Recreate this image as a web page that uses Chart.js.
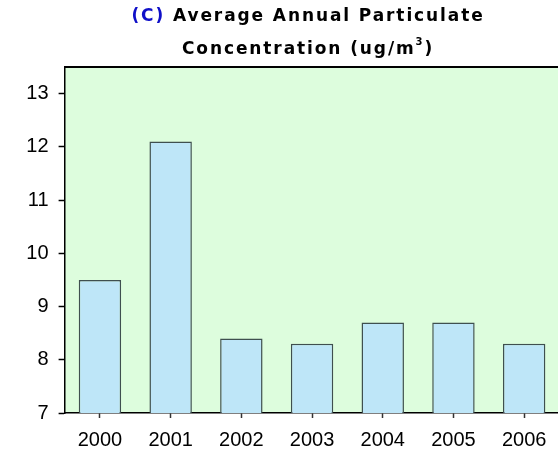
<!DOCTYPE html>
<html>
<head>
<meta charset="utf-8">
<script src="https://cdn.jsdelivr.net/npm/chart.js@4"></script>
<style>
    html, body { margin: 0; padding: 0; background: #fff; overflow: hidden; }
    #wrap { width: 562px; height: 452px; }
</style>
</head>
<body>
<div id="wrap"><canvas id="chart"></canvas></div>
<script>
const years = ['2000', '2001', '2002', '2003', '2004', '2005', '2006'];
const concentration = [9.5, 12.1, 8.4, 8.3, 8.7, 8.7, 8.3];
const titleTag = '(C)';
const titleLine1 = ' Average Annual Particulate';
const titleLine2 = ['Concentration (ug/m', '3', ')'];

// plot background + top border + two-colour title
const chartDecor = {
    id: 'chartDecor',
    beforeDraw(chart) {
        const { ctx, chartArea: a } = chart;
        ctx.save();
        ctx.fillStyle = '#ddfddd';
        ctx.fillRect(a.left, a.top, a.right - a.left, a.bottom - a.top);
        ctx.restore();
    },
    afterDraw(chart) {
        const { ctx, chartArea: a } = chart;
        ctx.save();
        ctx.strokeStyle = '#000';
        ctx.lineWidth = 2;
        ctx.beginPath();
        ctx.moveTo(a.left, a.top);
        ctx.lineTo(a.right, a.top);
        ctx.stroke();

        const big = 'bold 17px "DejaVu Sans"';
        const small = 'bold 10px "DejaVu Sans"';
        const cx = (a.left + a.right) / 2 - 4;
        ctx.letterSpacing = '1.9px';
        ctx.textBaseline = 'alphabetic';
        ctx.font = big;

        const w1 = ctx.measureText(titleTag).width;
        const w2 = ctx.measureText(titleLine1).width;
        let x = cx - (w1 + w2) / 2;
        ctx.fillStyle = '#1010c8';
        ctx.fillText(titleTag, x, 21);
        ctx.fillStyle = '#000';
        ctx.fillText(titleLine1, x + w1, 21);

        const wa = ctx.measureText(titleLine2[0]).width;
        ctx.font = small;
        const wb = ctx.measureText(titleLine2[1]).width;
        ctx.font = big;
        const wc = ctx.measureText(titleLine2[2]).width;
        x = cx - (wa + wb + wc) / 2;
        ctx.fillText(titleLine2[0], x, 54);
        ctx.font = small;
        ctx.fillText(titleLine2[1], x + wa, 45);
        ctx.font = big;
        ctx.fillText(titleLine2[2], x + wa + wb, 54);
        ctx.restore();
    }
};

new Chart(document.getElementById('chart'), {
    type: 'bar',
    data: {
        labels: years,
        datasets: [{
            data: concentration,
            backgroundColor: '#bee6f8',
            borderColor: '#3f4f4f',
            borderWidth: 1.5,
            borderSkipped: false,
            barPercentage: 0.6,
            categoryPercentage: 1
        }]
    },
    options: {
        responsive: true,
        maintainAspectRatio: false,
        animation: false,
        layout: { padding: { top: 67, right: 2.5, left: 0, bottom: 0 } },
        plugins: {
            legend: { display: false },
            tooltip: { enabled: false }
        },
        scales: {
            x: {
                offset: true,
                grid: {
                    offset: false,
                    drawOnChartArea: false,
                    tickLength: 5,
                    tickColor: '#333',
                    tickWidth: 1.5
                },
                border: { display: true, color: '#000', width: 1.5 },
                ticks: {
                    color: '#000',
                    padding: 10,
                    font: { family: '"Liberation Sans", Arial', size: 20 }
                },
                afterFit(scale) { scale.height = 39; }
            },
            y: {
                min: 7,
                max: 13.5,
                grid: {
                    drawOnChartArea: false,
                    tickLength: 6,
                    tickColor: '#000',
                    tickWidth: 1.5
                },
                border: { display: true, color: '#000', width: 1.5 },
                ticks: {
                    stepSize: 1,
                    includeBounds: false,
                    color: '#000',
                    padding: 10,
                    font: { family: '"Liberation Sans", Arial', size: 20 }
                },
                afterFit(scale) { scale.width = 64.6; }
            }
        }
    },
    plugins: [chartDecor]
});
</script>
</body>
</html>
